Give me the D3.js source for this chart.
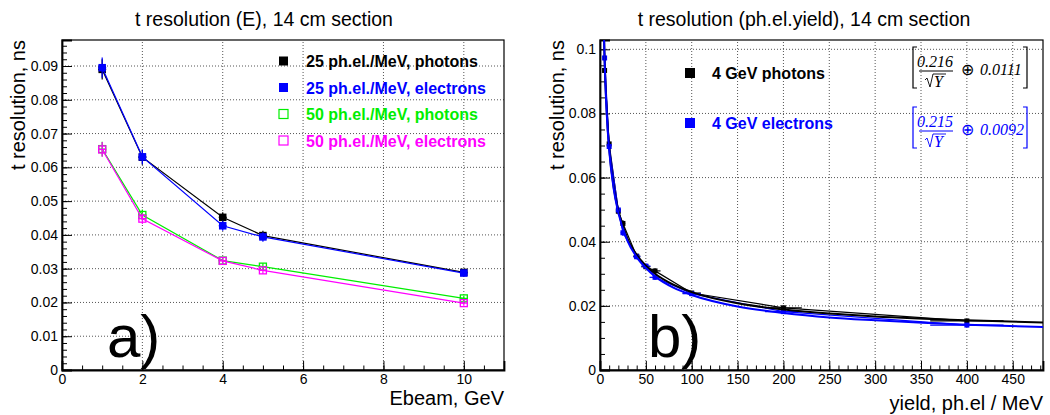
<!DOCTYPE html>
<html>
<head>
<meta charset="utf-8">
<script src="https://cdn.jsdelivr.net/npm/d3@7"></script>
<style>
  body { margin: 0; background: #fff; }
  svg { font-family: "Liberation Sans", Arial, sans-serif; }
</style>
</head>
<body>
<svg id="chart" width="1050" height="415"></svg>
<script>
// ---- panel a) data: t resolution vs beam energy
const energies = [1, 2, 4, 5, 10];
const res25Photons = [0.0890, 0.0630, 0.0452, 0.0398, 0.0289];
const res25Electrons = [0.0895, 0.0631, 0.0427, 0.0394, 0.0287];
const res50Photons = [0.0654, 0.0459, 0.0324, 0.0306, 0.0212];
const res50Electrons = [0.0653, 0.0448, 0.0323, 0.0295, 0.0198];
const err25 = [0.0030, 0.0022, 0.0015, 0.0014, 0.0010];
const err50 = [0.0022, 0.0016, 0.0010, 0.0010, 0.0008];
const energyErr = [0.1, 0.1, 0.1, 0.1, 0.1];
const legendA = ['25 ph.el./MeV, photons', '25 ph.el./MeV, electrons', '50 ph.el./MeV, photons', '50 ph.el./MeV, electrons'];

// ---- panel b) data: t resolution vs photoelectron yield at 4 GeV
const yields = [5, 10, 20, 25, 40, 50, 60, 100, 200, 400];
const yieldErr = [0.5, 1, 2, 2.5, 4, 5, 6, 10, 20, 40];
const resPhotons4 = [0.0934, 0.0705, 0.0495, 0.0457, 0.0355, 0.0322, 0.0309, 0.0240, 0.0194, 0.0153];
const resElectrons4 = [0.0973, 0.0697, 0.0499, 0.0428, 0.0353, 0.0324, 0.0289, 0.0238, 0.0182, 0.0140];
const resErr4 = [0.0015, 0.0012, 0.0010, 0.0010, 0.0008, 0.0008, 0.0008, 0.0006, 0.0005, 0.0005];
// fit curves
const fitYields = [4, 5, 6, 8, 10, 15, 20, 30, 40, 50, 60, 80, 100, 150, 200, 250, 300, 400, 483];
const fitPhotons = [0.1086, 0.0972, 0.0889, 0.0772, 0.0692, 0.0569, 0.0496, 0.0410, 0.0359, 0.0325, 0.0300, 0.0266, 0.0243, 0.0208, 0.0189, 0.0176, 0.0167, 0.0155, 0.0148];
const fitElectrons = [0.1079, 0.0966, 0.0883, 0.0766, 0.0686, 0.0563, 0.0490, 0.0403, 0.0352, 0.0318, 0.0292, 0.0257, 0.0234, 0.0198, 0.0178, 0.0164, 0.0155, 0.0141, 0.0134];
const legendB = ['4 GeV photons', '4 GeV electrons'];
const fitParams = [['0.216', '0.0111'], ['0.215', '0.0092']];

const svg = d3.select('#chart');
const grid_color = '#555';

// draws frame, grid, major+minor ticks and labels of one ROOT style pad
function drawPad(p) {
  const g = svg.append('g');
  const x = p.x, y = p.y;

  // grid
  g.selectAll('.vgrid').data(p.xMajor.filter(d => d > p.xDomain[0] && d < p.xDomain[1])).join('line')
    .attr('x1', d => x(d)).attr('x2', d => x(d))
    .attr('y1', y.range()[0]).attr('y2', y.range()[1])
    .attr('stroke', grid_color).attr('stroke-dasharray', '1,2');
  g.selectAll('.hgrid').data(p.yMajor.filter(d => d > 0 && d < p.yDomain[1])).join('line')
    .attr('y1', d => y(d)).attr('y2', d => y(d))
    .attr('x1', x.range()[0]).attr('x2', x.range()[1])
    .attr('stroke', grid_color).attr('stroke-dasharray', '1,2');

  // frame
  g.append('rect')
    .attr('x', x.range()[0]).attr('y', y.range()[1])
    .attr('width', x.range()[1] - x.range()[0]).attr('height', y.range()[0] - y.range()[1])
    .attr('fill', 'none').attr('stroke', '#000').attr('stroke-width', 1.2);

  // axes, ticks drawn inwards
  const xAxis = g.append('g').attr('transform', `translate(0,${y.range()[0]})`)
    .call(d3.axisBottom(x).tickValues(p.xMajor).tickSize(-9).tickPadding(4).tickFormat(p.xFormat));
  g.append('g').attr('transform', `translate(0,${y.range()[0]})`)
    .call(d3.axisBottom(x).tickValues(p.xMinor).tickSize(-4.5).tickFormat(''))
    .select('.domain').remove();
  const yAxis = g.append('g').attr('transform', `translate(${x.range()[0]},0)`)
    .call(d3.axisLeft(y).tickValues(p.yMajor).tickSize(-10).tickPadding(4).tickFormat(p.yFormat));
  g.append('g').attr('transform', `translate(${x.range()[0]},0)`)
    .call(d3.axisLeft(y).tickValues(p.yMinor).tickSize(-5).tickFormat(''))
    .select('.domain').remove();
  [xAxis, yAxis].forEach(a => {
    a.select('.domain').attr('stroke-width', 1.8);
    a.selectAll('text').attr('font-size', 14).attr('fill', '#000')
      .attr('font-family', '"Liberation Sans", Arial, sans-serif');
  });
  g.selectAll('.tick line').attr('stroke', '#000');

  // titles
  g.append('text').attr('x', p.titleX).attr('y', 26).attr('text-anchor', 'middle')
    .attr('font-size', 19.5).text(p.title);
  g.append('text').attr('transform', `translate(${p.yTitleX},${y.range()[1]}) rotate(-90)`)
    .attr('text-anchor', 'end').attr('font-size', 20).text('t resolution, ns');
  g.append('text').attr('x', x.range()[1]).attr('y', p.xTitleY).attr('text-anchor', 'end')
    .attr('font-size', 20).text(p.xTitle);
  g.append('text').attr('x', p.tagX).attr('y', 357).attr('font-size', 60).text(p.tag);
  return g;
}

function drawSeries(g, x, y, xs, ys, ey, ex, color, filled, ms) {
  const pts = xs.map((v, i) => ({ x: v, y: ys[i], ey: ey[i], ex: ex[i] }));
  g.append('path').datum(pts)
    .attr('d', d3.line().x(d => x(d.x)).y(d => y(d.y)))
    .attr('fill', 'none').attr('stroke', color).attr('stroke-width', 1.2);
  g.selectAll(null).data(pts).join('line')
    .attr('x1', d => x(d.x)).attr('x2', d => x(d.x))
    .attr('y1', d => y(d.y - d.ey)).attr('y2', d => y(d.y + d.ey))
    .attr('stroke', color).attr('stroke-width', 1.2);
  g.selectAll(null).data(pts).join('line')
    .attr('x1', d => x(d.x - d.ex)).attr('x2', d => x(d.x + d.ex))
    .attr('y1', d => y(d.y)).attr('y2', d => y(d.y))
    .attr('stroke', color).attr('stroke-width', 1.2);
  g.selectAll(null).data(pts).join('rect')
    .attr('x', d => x(d.x) - ms / 2).attr('y', d => y(d.y) - ms / 2)
    .attr('width', ms).attr('height', ms)
    .attr('fill', filled ? color : 'none')
    .attr('stroke', color).attr('stroke-width', filled ? 0 : 1.3);
}

// ---------------- panel a)
const xA = d3.scaleLinear().domain([0, 11]).range([62, 504]);
const yA = d3.scaleLinear().domain([0, 0.0977]).range([370, 40]);
const gA = drawPad({
  x: xA, y: yA, xDomain: [0, 11], yDomain: [0, 0.0977],
  xMajor: d3.range(0, 11, 2), xMinor: d3.range(0, 11.01, 0.5),
  yMajor: d3.range(0, 0.0951, 0.01), yMinor: d3.range(0, 0.0977, 0.002),
  xFormat: d3.format('d'), yFormat: d => d === 0 ? '0' : d3.format('.2f')(d),
  title: 't resolution (E), 14 cm section', titleX: 264,
  yTitleX: 25, xTitle: 'Ebeam, GeV', xTitleY: 405, tag: 'a)', tagX: 107
});
const colorsA = ['#000000', '#0000ff', '#00ee00', '#ff00ff'];
drawSeries(gA, xA, yA, energies, res50Photons, err50, energyErr, '#00ee00', false, 7);
drawSeries(gA, xA, yA, energies, res50Electrons, err50, energyErr, '#ff00ff', false, 7);
drawSeries(gA, xA, yA, energies, res25Photons, err25, energyErr, '#000000', true, 7.5);
drawSeries(gA, xA, yA, energies, res25Electrons, err25, energyErr, '#0000ff', true, 7.5);

const legA = gA.append('g');
legendA.forEach((label, i) => {
  const cy = 61 + i * 26.5;
  const col = colorsA[i];
  legA.append('rect').attr('x', 279).attr('y', cy - 4.5).attr('width', 9).attr('height', 9)
    .attr('fill', i < 2 ? col : '#fff').attr('stroke', col).attr('stroke-width', i < 2 ? 0 : 1.2);
  legA.append('text').attr('x', 306).attr('y', cy + 6).attr('font-size', 16)
    .attr('font-weight', 'bold').attr('fill', col).text(label);
});

// ---------------- panel b)
const xB = d3.scaleLinear().domain([0, 483]).range([600, 1043]);
const yB = d3.scaleLinear().domain([0, 0.1029]).range([370, 40]);
const gB = drawPad({
  x: xB, y: yB, xDomain: [0, 483], yDomain: [0, 0.1029],
  xMajor: d3.range(0, 451, 50), xMinor: d3.range(0, 483, 10),
  yMajor: d3.range(0, 0.1001, 0.02), yMinor: d3.range(0, 0.1029, 0.005),
  xFormat: d3.format('d'), yFormat: d => d === 0 ? '0' : (d > 0.099 ? '0.1' : d3.format('.2f')(d)),
  title: 't resolution (ph.el.yield), 14 cm section', titleX: 804,
  yTitleX: 564, xTitle: 'yield, ph.el / MeV', xTitleY: 410, tag: 'b)', tagX: 648
});

svg.append('clipPath').attr('id', 'clipB').append('rect')
  .attr('x', 600).attr('y', 40).attr('width', 443).attr('height', 330);
const plotB = gB.append('g').attr('clip-path', 'url(#clipB)');
drawSeries(plotB, xB, yB, yields, resPhotons4, resErr4, yieldErr, '#000000', true, 5);
drawSeries(plotB, xB, yB, yields, resElectrons4, resErr4, yieldErr, '#0000ff', true, 5);
const fitLine = d3.line().curve(d3.curveMonotoneX).x(d => xB(d[0])).y(d => yB(d[1]));
plotB.append('path').datum(fitYields.map((v, i) => [v, fitPhotons[i]]))
  .attr('d', fitLine).attr('fill', 'none').attr('stroke', '#000').attr('stroke-width', 2);
plotB.append('path').datum(fitYields.map((v, i) => [v, fitElectrons[i]]))
  .attr('d', fitLine).attr('fill', 'none').attr('stroke', '#0000ff').attr('stroke-width', 2);

const legB = gB.append('g');
legendB.forEach((label, i) => {
  const cy = 73 + i * 50;
  const col = i === 0 ? '#000' : '#0000ff';
  legB.append('rect').attr('x', 685).attr('y', cy - 5).attr('width', 10).attr('height', 10).attr('fill', col);
  legB.append('text').attr('x', 712).attr('y', cy + 6).attr('font-size', 16)
    .attr('font-weight', 'bold').attr('fill', col).text(label);

  // fit formula [a/sqrt(Y) (+) b]
  const top = 47 + i * 60, bot = top + 41;
  const f = legB.append('g').attr('fill', col).attr('stroke', 'none')
    .attr('font-family', '"Liberation Serif", "Times New Roman", serif').attr('font-style', 'italic');
  f.append('path').attr('d', `M917,${top}H913V${bot}H917 M1023,${top}H1027V${bot}H1023`)
    .attr('fill', 'none').attr('stroke', col).attr('stroke-width', 1.2);
  f.append('text').attr('x', 935).attr('y', top + 20).attr('text-anchor', 'middle')
    .attr('font-size', 16).text(fitParams[i][0]);
  f.append('line').attr('x1', 919).attr('x2', 953).attr('y1', top + 24).attr('y2', top + 24)
    .attr('stroke', col).attr('stroke-width', 1);
  f.append('path').attr('d', `M925,${top + 33}L927,${top + 31}L930,${top + 40}L933,${top + 27}H946`)
    .attr('fill', 'none').attr('stroke', col).attr('stroke-width', 0.9);
  f.append('text').attr('x', 934).attr('y', top + 40).attr('font-size', 16).text('Y');
  f.append('text').attr('x', 961).attr('y', top + 28).attr('font-size', 16)
    .attr('font-style', 'normal').text('\u2295');
  f.append('text').attr('x', 980).attr('y', top + 28).attr('font-size', 16).text(fitParams[i][1]);
});
</script>
</body>
</html>
